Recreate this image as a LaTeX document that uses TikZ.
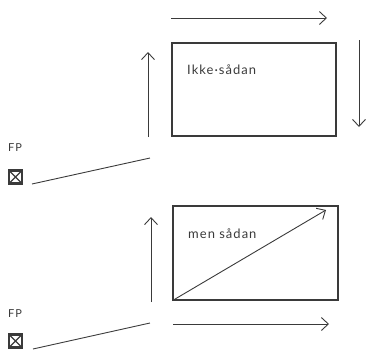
\documentclass[tikz,border=0pt]{standalone}
\usepackage{fontspec}
\setmainfont{Lato}
\newfontfamily\labelfont[LetterSpace=8]{Lato}
\usetikzlibrary{arrows.meta}
\definecolor{ink}{HTML}{3A3A3A}
\tikzset{
  inkline/.style={draw=ink, line width=0.9bp},
  arrowline/.style={inkline, -{Straight Barb[length=7bp,width=13bp,line width=0.9bp]}},
  frame/.style={draw=ink, line width=1.3bp, rectangle, inner sep=0pt},
  boxtext/.style={font=\labelfont\fontsize{13}{15}\selectfont, text=ink, anchor=west, inner sep=0pt},
  fptext/.style={font=\labelfont\fontsize{11}{13}\selectfont, text=ink, inner sep=0pt},
  fpmark/.style={draw=ink, line width=2.2bp, rectangle, minimum size=13bp, inner sep=0pt,
    path picture={\draw[ink, line width=1.4bp]
      (path picture bounding box.south west) -- (path picture bounding box.north east)
      (path picture bounding box.north west) -- (path picture bounding box.south east);}}
}
\begin{document}
\begin{tikzpicture}[x=1bp, y=-1bp]
  \useasboundingbox (0,0) rectangle (367,354);

  % upper panel
  \node[frame, minimum width=164bp, minimum height=93bp] (r1) at (254,89.5) {};
  \node[boxtext] (t1) at (187,70) {Ikke·sådan};
  \coordinate (a1s) at (171,18);  \coordinate (a1e) at (327,18);
  \coordinate (d1s) at (359,40);  \coordinate (d1e) at (359,127);
  \coordinate (u1s) at (148,137); \coordinate (u1e) at (148,52);
  \draw[arrowline] (a1s) -- (a1e);
  \draw[arrowline] (d1s) -- (d1e);
  \draw[arrowline] (u1s) -- (u1e);
  \node[fptext] (fp1) at (15,148) {FP};
  \node[fpmark] (m1) at (15.5,177) {};
  \coordinate (l1s) at (32,184);  \coordinate (l1e) at (150,158);
  \draw[inkline] (l1s) -- (l1e);

  % lower panel
  \node[frame, minimum width=165bp, minimum height=94bp] (r2) at (255.5,253) {};
  \node[boxtext] (t2) at (188,234) {men sådan};
  \coordinate (g2e) at (326,210);
  \draw[arrowline] (r2.south west) -- (g2e);
  \coordinate (u2s) at (151,302); \coordinate (u2e) at (151,217);
  \coordinate (h2s) at (173,324); \coordinate (h2e) at (329,324);
  \draw[arrowline] (u2s) -- (u2e);
  \draw[arrowline] (h2s) -- (h2e);
  \node[fptext] (fp2) at (15,314) {FP};
  \node[fpmark] (m2) at (15.5,341) {};
  \coordinate (l2s) at (33,349);  \coordinate (l2e) at (150,323);
  \draw[inkline] (l2s) -- (l2e);
\end{tikzpicture}
\end{document}
